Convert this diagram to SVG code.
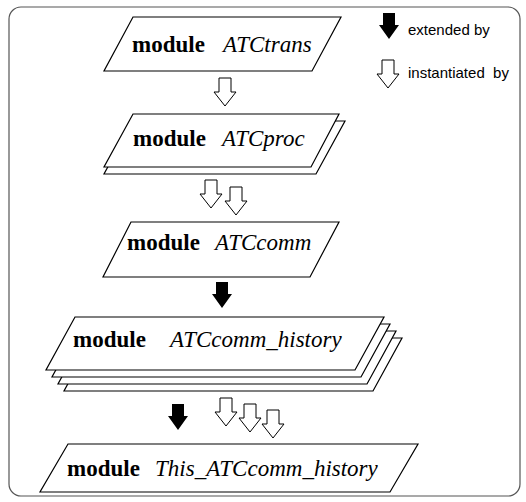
<svg xmlns="http://www.w3.org/2000/svg" width="526" height="502" viewBox="0 0 526 502">
<defs>
<style>
.box{fill:#fff;stroke:#000;stroke-width:1.2}
.kw{font-family:'Liberation Serif','DejaVu Serif',serif;font-weight:bold;font-size:23px;fill:#000}
.nm{font-family:'Liberation Serif','DejaVu Serif',serif;font-style:italic;font-size:23px;fill:#000}
.lg{font-family:'Liberation Sans',Arial,sans-serif;font-size:15px;fill:#000}
.solid{fill:#000}
.hollow{fill:#fff;stroke:#000;stroke-width:1}
</style>
<path id="solidArrow" class="solid" d="M-6,0 H6 V12 H10 L0,26 L-10,12 H-6 Z"/>
<path id="hollowArrow" class="hollow" d="M-6,0 H6 V14 H11 L0,28 L-11,14 H-6 Z"/>
</defs>
<rect x="9" y="7" width="511" height="489" rx="12" fill="#fff" stroke="#555" stroke-width="1.2"/>

<g id="legend">
<use href="#solidArrow" transform="translate(389,13)"/>
<text class="lg" x="408" y="35">extended by</text>
<use href="#hollowArrow" transform="translate(388,60)"/>
<text class="lg" x="408" y="78" xml:space="preserve">instantiated  by</text>
</g>

<g id="ATCtrans">
<polygon class="box" points="133,17 341,17 312,71 104,71"/>
<text class="kw" x="132" y="52">module</text>
<text class="nm" x="223" y="52">ATCtrans</text>
</g>

<g id="ATCproc">
<polygon class="box" points="133,121 345,121 316,174 104,174"/>
<polygon class="box" points="133,114 339,114 311,167 104,167"/>
<text class="kw" x="133" y="146">module</text>
<text class="nm" x="222" y="146">ATCproc</text>
</g>

<g id="ATCcomm">
<polygon class="box" points="131,222 339,222 310,277 103,277"/>
<text class="kw" x="127" y="250">module</text>
<text class="nm" x="215" y="250">ATCcomm</text>
</g>

<g id="ATCcomm_history">
<polygon class="box" points="93,338 402,338 373,391 64,391"/>
<polygon class="box" points="87,331 396,331 367,384 58,384"/>
<polygon class="box" points="81,324 390,324 361,377 52,377"/>
<polygon class="box" points="75,317 384,317 355,370 46,370"/>
<text class="kw" x="73" y="347">module</text>
<text class="nm" x="170" y="347">ATCcomm_history</text>
</g>

<g id="This_ATCcomm_history">
<polygon class="box" points="68,444 418,444 390,492 40,492"/>
<text class="kw" x="67" y="476">module</text>
<text class="nm" x="155" y="476">This_ATCcomm_history</text>
</g>

<g id="connectors">
<use href="#hollowArrow" transform="translate(225,78)"/>
<use href="#hollowArrow" transform="translate(211,180)"/>
<use href="#hollowArrow" transform="translate(236,187)"/>
<use href="#solidArrow" transform="translate(222,282)"/>
<use href="#solidArrow" transform="translate(178,404)"/>
<use href="#hollowArrow" transform="translate(226,398)"/>
<use href="#hollowArrow" transform="translate(250,404)"/>
<use href="#hollowArrow" transform="translate(273,410)"/>
</g>
</svg>
